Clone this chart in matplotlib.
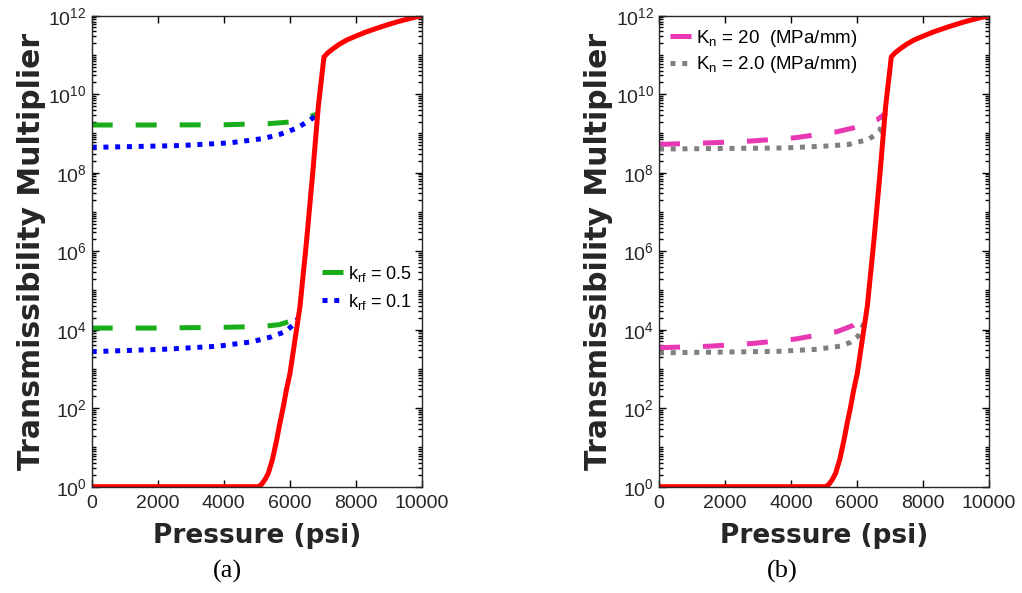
import matplotlib
matplotlib.use("Agg")
import matplotlib.pyplot as plt
from matplotlib.ticker import LogLocator, FixedLocator, NullFormatter

plt.rcParams['font.family'] = ['Liberation Sans', 'DejaVu Sans']
plt.rcParams['mathtext.fontset'] = 'custom'
plt.rcParams['mathtext.rm'] = 'Liberation Sans'
plt.rcParams['mathtext.it'] = 'Liberation Sans:italic'
plt.rcParams['mathtext.bf'] = 'Liberation Sans:bold'

# red curve (same in both panels)
red_p = [0, 5050, 5150, 5250, 5352, 5480, 5606, 5700, 5808, 5900, 6010, 6150,
         6312, 6515, 6697, 6867, 7040, 7150, 7300, 7500, 7730, 8000, 8300, 8740, 9240,
         9600, 10000]
red_t = [1, 1, 1.15, 1.51, 2.19, 5.0, 15.5, 40, 110, 290, 776, 4.8e3,
         3.9e4, 1.95e6, 9.5e7, 4.8e9, 8.9e10, 1.12e11, 1.41e11, 1.86e11, 2.4e11, 3.0e11,
         3.8e11, 5.1e11, 6.9e11, 8.3e11, 1e12]

# (a) k_rf
a_p_up05 = [0, 2000, 4000, 5400, 6000, 6400, 6820]
a_t_up05 = [1.64e9, 1.64e9, 1.66e9, 1.78e9, 1.95e9, 2.29e9, 3.09e9]
a_p_up01 = [0, 2680, 4190, 5200, 5710, 6210, 6620, 6820]
a_t_up01 = [4.4e8, 4.9e8, 5.75e8, 7.4e8, 9.5e8, 1.35e9, 2.2e9, 2.95e9]
a_p_lo05 = [0, 2000, 4000, 5150, 5700, 6260, 6460]
a_t_lo05 = [1.1e4, 1.1e4, 1.15e4, 1.2e4, 1.35e4, 1.9e4, 2.15e4]
a_p_lo01 = [0, 2320, 3840, 4850, 5460, 5860, 6110, 6260]
a_t_lo01 = [2.75e3, 3.2e3, 3.8e3, 4.9e3, 6.6e3, 8.9e3, 1.32e4, 1.95e4]

# (b) K_n
b_p_up20 = [0, 1550, 2860, 4120, 5390, 6000, 6600, 6900]
b_t_up20 = [5.25e8, 5.75e8, 6.45e8, 7.75e8, 1.1e9, 1.45e9, 2.2e9, 3.4e9]
b_p_up2 = [0, 3760, 5150, 5760, 6360, 6670, 6840]
b_t_up2 = [4.0e8, 4.25e8, 4.8e8, 5.25e8, 7.1e8, 1.1e9, 2.5e9]
b_p_lo20 = [0, 1550, 2860, 4120, 5390, 5640, 5900, 6170, 6470]
b_t_lo20 = [3.47e3, 3.8e3, 4.47e3, 5.75e3, 8.9e3, 1.07e4, 1.3e4, 1.95e4, 2.3e4]
b_p_lo2 = [0, 3570, 4780, 5490, 5790, 6040, 6260]
b_t_lo2 = [2.57e3, 2.8e3, 3.16e3, 3.8e3, 4.7e3, 6.9e3, 1.8e4]

labels_a = [r'k$_{\mathrm{rf}}$ = 0.5', r'k$_{\mathrm{rf}}$ = 0.1']
labels_b = [r'K$_{\mathrm{n}}$ = 20  (MPa/mm)', r'K$_{\mathrm{n}}$ = 2.0 (MPa/mm)']

green = '#1aad1a'
blue = '#0000ff'
pink = '#e838b4'
grey = '#808080'
dash = (0, (4.2, 4.6))
dot = (0, (1.0, 1.35))
lw = 3.6

fig = plt.figure(figsize=(10.22, 5.93), dpi=100)
ax1 = fig.add_axes([0.0897, 0.1793, 0.3229, 0.7943])
ax2 = fig.add_axes([0.6448, 0.1793, 0.3229, 0.7943])

ax1.plot(a_p_up05, a_t_up05, color=green, lw=lw, linestyle=dash, label=labels_a[0])
ax1.plot(a_p_up01, a_t_up01, color=blue, lw=lw, linestyle=dot, label=labels_a[1])
ax1.plot(a_p_lo05, a_t_lo05, color=green, lw=lw, linestyle=dash)
ax1.plot(a_p_lo01, a_t_lo01, color=blue, lw=lw, linestyle=dot)
ax1.plot(red_p, red_t, color='red', lw=3.6, solid_joinstyle='miter')

ax2.plot(b_p_up20, b_t_up20, color=pink, lw=lw, linestyle=dash, label=labels_b[0])
ax2.plot(b_p_up2, b_t_up2, color=grey, lw=lw, linestyle=dot, label=labels_b[1])
ax2.plot(b_p_lo20, b_t_lo20, color=pink, lw=lw, linestyle=dash)
ax2.plot(b_p_lo2, b_t_lo2, color=grey, lw=lw, linestyle=dot)
ax2.plot(red_p, red_t, color='red', lw=3.6, solid_joinstyle='miter')

for ax in (ax1, ax2):
    ax.set_yscale('log')
    ax.set_xlim(0, 10000)
    ax.set_ylim(1, 1e12)
    ax.xaxis.set_major_locator(FixedLocator([0, 2000, 4000, 6000, 8000, 10000]))
    ax.yaxis.set_major_locator(FixedLocator([10.0 ** k for k in range(0, 13, 2)]))
    ax.yaxis.set_minor_locator(LogLocator(base=10, subs=range(1, 10), numticks=100))
    ax.yaxis.set_minor_formatter(NullFormatter())
    ax.tick_params(which='both', direction='in', top=True, right=True,
                   labelsize=14, labelcolor='#262626', width=1)
    ax.tick_params(axis='x', pad=6)
    ax.tick_params(which='major', length=5)
    ax.tick_params(which='minor', length=3)
    for s in ax.spines.values():
        s.set_linewidth(1)
        s.set_color('#262626')
    ax.set_xlabel('Pressure (psi)', fontsize=19, fontweight='bold', color='#262626',
                  family='DejaVu Sans', labelpad=8)
    ax.set_ylabel('Transmissibility Multiplier', fontsize=21.5, fontweight='bold',
                  color='#262626', family='DejaVu Sans', labelpad=2)

ax1.legend(loc='upper left', bbox_to_anchor=(0.675, 0.489), frameon=False, fontsize=13,
           handlelength=1.25, handletextpad=0.2, labelspacing=0.45, borderaxespad=0)
ax2.legend(loc='upper left', bbox_to_anchor=(0.01, 0.99), frameon=False, fontsize=13.5,
           handlelength=1.25, handletextpad=0.15, labelspacing=0.3, borderaxespad=0)

fig.text(0.223, 0.037, '(a)', fontsize=19, family='Liberation Serif', ha='center', va='center')
fig.text(0.765, 0.037, '(b)', fontsize=19, family='Liberation Serif', ha='center', va='center')

fig.savefig('out.png', dpi=100)
